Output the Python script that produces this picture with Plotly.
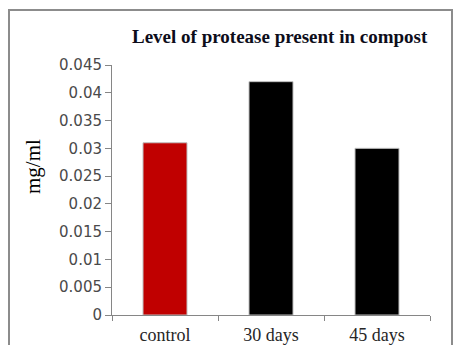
import plotly.graph_objects as go

# Protease level measured in compost samples
categories = ["control", "30 days", "45 days"]
protease_mg_ml = [0.031, 0.042, 0.030]
bar_colors = ["#C00000", "#000000", "#000000"]
y_ticks = [0, 0.005, 0.01, 0.015, 0.02, 0.025, 0.03, 0.035, 0.04, 0.045]
y_tick_labels = ["0", "0.005", "0.01", "0.015", "0.02", "0.025", "0.03", "0.035", "0.04", "0.045"]

W, H = 455, 345
L, R, T, B = 112, 25, 65, 30
plot_w = W - L - R
plot_h = H - T - B


def px_to_paper_x(px):
    return (px - L) / plot_w


def px_to_paper_y(py):
    return (H - B - py) / plot_h


fig = go.Figure(
    go.Bar(
        x=categories,
        y=protease_mg_ml,
        marker=dict(color=bar_colors, line=dict(color="#BFBFBF", width=1)),
        width=0.415,
        hoverinfo="skip",
    )
)

fig.update_layout(
    width=W,
    height=H,
    margin=dict(l=L, r=R, t=T, b=B, pad=0),
    paper_bgcolor="white",
    plot_bgcolor="white",
    showlegend=False,
    xaxis=dict(
        type="category",
        automargin=False,
        showline=True,
        linecolor="#868686",
        linewidth=1,
        ticks="outside",
        ticklen=5,
        tickcolor="#868686",
        tickson="boundaries",
        ticklabelstandoff=3,
        showgrid=False,
        tickfont=dict(family="Liberation Serif", size=18, color="#262626"),
        fixedrange=True,
    ),
    yaxis=dict(
        range=[0, 0.045],
        automargin=False,
        tickvals=y_ticks,
        ticktext=y_tick_labels,
        showline=True,
        linecolor="#868686",
        linewidth=1,
        ticks="outside",
        ticklen=6,
        tickcolor="#868686",
        showgrid=False,
        zeroline=False,
        tickfont=dict(family="DejaVu Sans", size=15, color="#4A4A4A"),
        fixedrange=True,
    ),
    shapes=[
        dict(
            type="rect",
            xref="paper",
            yref="paper",
            x0=px_to_paper_x(9),
            x1=px_to_paper_x(452),
            y0=px_to_paper_y(360),
            y1=px_to_paper_y(10),
            line=dict(color="#8C8C8C", width=2),
            fillcolor="rgba(0,0,0,0)",
            layer="below",
        )
    ],
    annotations=[
        dict(
            text="<b>Level of protease present in compost</b>",
            xref="paper",
            yref="paper",
            x=px_to_paper_x(280),
            y=px_to_paper_y(37),
            xanchor="center",
            yanchor="middle",
            showarrow=False,
            font=dict(family="Liberation Serif", size=19, color="#0D0D1A"),
        ),
        dict(
            text="mg/ml",
            xref="paper",
            yref="paper",
            x=px_to_paper_x(33),
            y=px_to_paper_y(167),
            xanchor="center",
            yanchor="middle",
            textangle=-90,
            showarrow=False,
            font=dict(family="Liberation Serif", size=21, color="#000000"),
        ),
    ],
)

fig.write_html("out.html")
